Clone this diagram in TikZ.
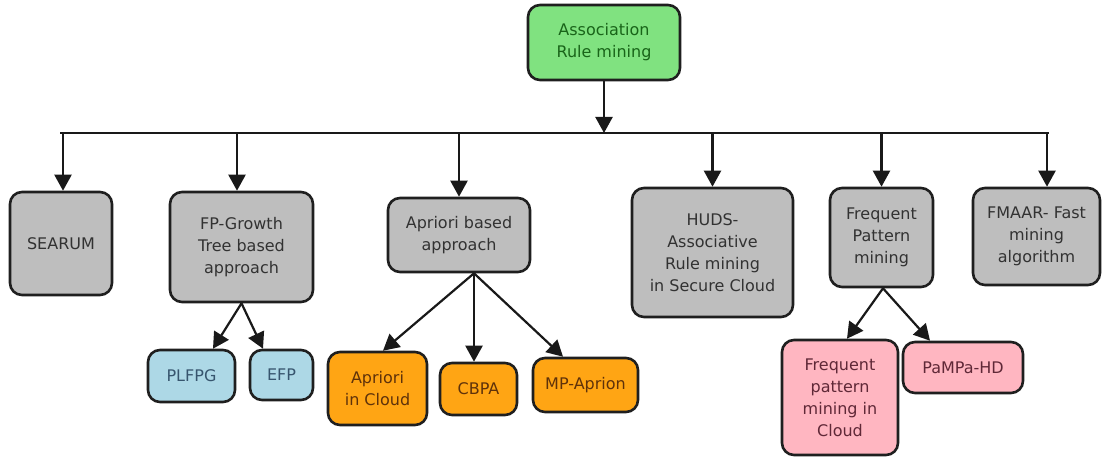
\documentclass[tikz,border=0pt]{standalone}
\usepackage{fontspec}
\setmainfont{DejaVu Sans}
\usetikzlibrary{arrows.meta}

\definecolor{boxgray}{RGB}{190,190,190}
\definecolor{txtgray}{RGB}{50,50,50}
\definecolor{boxgreen}{RGB}{128,226,128}
\definecolor{txtgreen}{RGB}{25,100,25}
\definecolor{boxblue}{RGB}{173,216,230}
\definecolor{txtblue}{RGB}{55,85,110}
\definecolor{boxorange}{RGB}{255,165,20}
\definecolor{txtorange}{RGB}{95,50,10}
\definecolor{boxpink}{RGB}{255,182,193}
\definecolor{txtpink}{RGB}{95,40,55}

\tikzset{
  card/.style={draw=black!88, line width=2.6pt, rounded corners=12pt, align=center,
    inner sep=1pt, font=\fontsize{16}{22}\selectfont},
  graycard/.style={card, fill=boxgray, text=txtgray},
  greencard/.style={card, fill=boxgreen, text=txtgreen},
  bluecard/.style={card, fill=boxblue, text=txtblue},
  orangecard/.style={card, fill=boxorange, text=txtorange},
  pinkcard/.style={card, fill=boxpink, text=txtpink},
  arr/.style={draw=black!90, line width=2.2pt, -{Triangle[width=17pt,length=16pt]}},
  busline/.style={draw=black!90, line width=2.2pt}
}

\begin{document}
\begin{tikzpicture}[x=1pt, y=-1pt]
  \useasboundingbox (0,0) rectangle (1102,457);

  % root
  \node[greencard, minimum width=152pt, minimum height=75pt] (arm) at (604,42.5)
    {Association\\Rule mining};

  % first level
  \node[graycard, minimum width=102pt, minimum height=103pt] (searum) at (61,243.5) {SEARUM};
  \node[graycard, minimum width=143pt, minimum height=110pt] (fpg) at (241.5,247)
    {FP-Growth\\Tree based\\approach};
  \node[graycard, minimum width=142pt, minimum height=74pt] (apr) at (459,235)
    {Apriori based\\approach};
  \node[graycard, minimum width=161pt, minimum height=129pt] (huds) at (712.5,252.5)
    {HUDS-\\Associative\\Rule mining\\in Secure Cloud};
  \node[graycard, minimum width=103pt, minimum height=99pt] (fpm) at (881.5,237.5)
    {Frequent\\Pattern\\mining};
  \node[graycard, minimum width=127pt, minimum height=97pt] (fmaar) at (1036.5,236.5)
    {FMAAR- Fast\\mining\\algorithm};

  % second level
  \node[bluecard, minimum width=87pt, minimum height=52pt] (plfpg) at (191.5,376) {PLFPG};
  \node[bluecard, minimum width=63pt, minimum height=50pt] (efp) at (281.5,375) {EFP};
  \node[orangecard, minimum width=99pt, minimum height=73pt] (aic) at (377.5,388.5)
    {Apriori\\in Cloud};
  \node[orangecard, minimum width=77pt, minimum height=52pt] (cbpa) at (478.5,389) {CBPA};
  \node[orangecard, minimum width=105pt, minimum height=54pt] (mpa) at (585.5,385) {MP-Aprion};
  \node[pinkcard, minimum width=116pt, minimum height=115pt] (fpmc) at (840,397.5)
    {Frequent\\pattern\\mining in\\Cloud};
  \node[pinkcard, minimum width=120pt, minimum height=51pt] (pampa) at (963,367.5) {PaMPa-HD};

  % distribution bus
  \coordinate (busL) at (60,133);
  \coordinate (busR) at (1049,133);
  \draw[busline] (busL) -- (busR);
  \draw[arr] (arm.south) -- (arm.south |- busL);

  \draw[arr] ([xshift=2pt]searum.north |- busL) -- ([xshift=2pt]searum.north);
  \draw[arr] ([xshift=-4.5pt]fpg.north |- busL) -- ([xshift=-4.5pt]fpg.north);
  \draw[arr] (apr.north |- busL) -- (apr.north);
  \draw[arr] (huds.north |- busL) -- (huds.north);
  \draw[arr] (fpm.north |- busL) -- (fpm.north);
  \draw[arr] ([xshift=10.5pt]fmaar.north |- busL) -- ([xshift=10.5pt]fmaar.north);

  % second-level links
  \draw[arr] (fpg.south) -- ([xshift=21.5pt]plfpg.north);
  \draw[arr] (fpg.south) -- ([xshift=-18.5pt]efp.north);
  \draw[arr] ([xshift=15pt]apr.south) -- ([xshift=5.5pt]aic.north);
  \draw[arr] ([xshift=15pt]apr.south) -- ([xshift=-4.5pt]cbpa.north);
  \draw[arr] ([xshift=15pt]apr.south) -- ([xshift=-22.5pt]mpa.north);
  \draw[arr] ([xshift=1.5pt]fpm.south) -- ([xshift=7pt]fpmc.north);
  \draw[arr] ([xshift=1.5pt]fpm.south) -- ([xshift=-33pt]pampa.north);
\end{tikzpicture}
\end{document}
